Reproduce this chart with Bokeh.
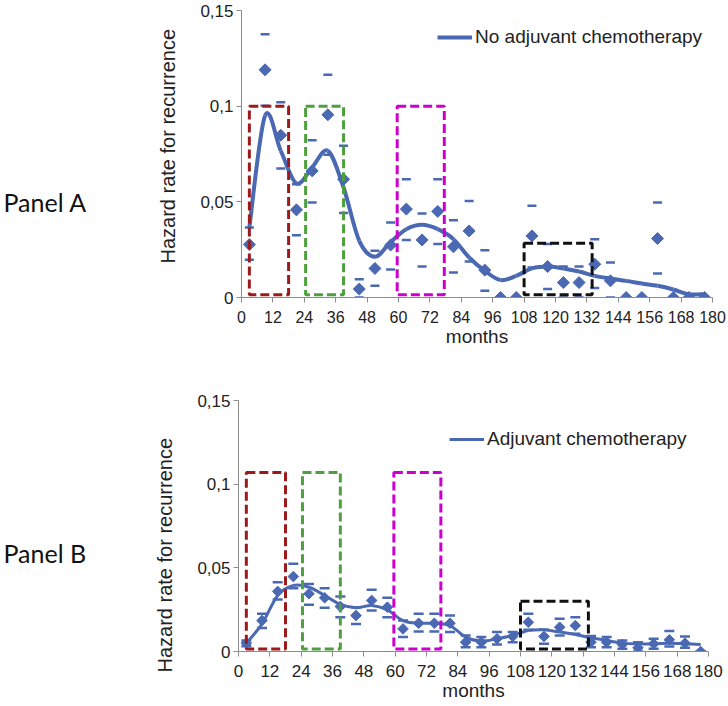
import numpy as np
from bokeh.plotting import figure
from bokeh.layouts import column, row
from bokeh.models import (Range1d, FixedTicker, Legend, LegendItem, ColumnDataSource, Title)
from bokeh.core.properties import value
from bokeh.embed import file_html
from bokeh.resources import INLINE

# ---------------- data ----------------
months = [3, 9, 15, 21, 27, 33, 39, 45, 51, 57, 63, 69, 75, 81, 87,
          93, 99, 105, 111, 117, 123, 129, 135, 141, 147, 153, 159, 165, 171, 177]

# Panel A: no adjuvant chemotherapy
a_hazard = [0.0277, 0.119, 0.0848, 0.0458, 0.0662, 0.0955, 0.0618, 0.0044, 0.0152, 0.0274,
            0.0462, 0.0301, 0.0450, 0.0265, 0.0348, 0.0143, 0.0, 0.0, 0.0322, 0.0162,
            0.0078, 0.0078, 0.0174, 0.0087, 0.0, 0.0, 0.0308, 0.0, 0.0, 0.0]
a_upper = [0.0366, 0.1376, 0.1020, 0.0592, 0.0822, 0.1164, 0.0793, 0.0096, 0.0244, 0.0392,
           0.0618, 0.0439, 0.0618, 0.0404, 0.0505, 0.0247, 0.0, 0.0, 0.0479, 0.0280,
           0.0162, 0.0162, 0.0305, 0.0183, 0.0, 0.0, 0.0497, 0.0, 0.0, 0.0]
a_lower = [0.0197, 0.1002, 0.0674, 0.0326, 0.0497, 0.0746, 0.0441, 0.0, 0.0061, 0.0146,
           0.0300, 0.0162, 0.0279, 0.0131, 0.0188, 0.0035, 0.0, 0.0, 0.0157, 0.0044,
           0.0, 0.0, 0.0049, 0.0, 0.0, 0.0, 0.0125, 0.0, 0.0, 0.0]
a_smooth = [0.0366, 0.0950, 0.0767, 0.0596, 0.0680, 0.0767, 0.0575, 0.0296, 0.0213, 0.0290,
            0.0357, 0.0380, 0.0357, 0.0305, 0.0209, 0.0139, 0.0091, 0.0113, 0.0152, 0.0162,
            0.0152, 0.0136, 0.0113, 0.0099, 0.0087, 0.0073, 0.0061, 0.0042, 0.0017, 0.0017]

# Panel B: adjuvant chemotherapy
b_hazard = [0.0050, 0.0185, 0.0359, 0.0448, 0.0345, 0.0321, 0.0269, 0.0215, 0.0305, 0.0265,
            0.0135, 0.0169, 0.0169, 0.0169, 0.0056, 0.0056, 0.0076, 0.0090, 0.0175, 0.0090,
            0.0145, 0.0155, 0.0056, 0.0056, 0.0042, 0.0022, 0.0046, 0.0070, 0.0050, 0.0]
b_upper = [0.0066, 0.0225, 0.0414, 0.0524, 0.0404, 0.0378, 0.0329, 0.0265, 0.0369, 0.0321,
           0.0185, 0.0225, 0.0225, 0.0215, 0.0096, 0.0086, 0.0116, 0.0116, 0.0225, 0.0130,
           0.0195, 0.0205, 0.0092, 0.0086, 0.0066, 0.0056, 0.0076, 0.0122, 0.0090, 0.0]
b_lower = [0.0032, 0.0141, 0.0311, 0.0378, 0.0279, 0.0261, 0.0205, 0.0165, 0.0245, 0.0205,
           0.0086, 0.0120, 0.0120, 0.0116, 0.0026, 0.0026, 0.0042, 0.0056, 0.0130, 0.0046,
           0.0096, 0.0106, 0.0026, 0.0026, 0.0016, 0.0, 0.0016, 0.0030, 0.0022, 0.0]
b_smooth = [0.0050, 0.0165, 0.0335, 0.0394, 0.0384, 0.0335, 0.0281, 0.0261, 0.0275, 0.0249,
            0.0185, 0.0169, 0.0169, 0.0155, 0.0086, 0.0062, 0.0076, 0.0096, 0.0125, 0.0130,
            0.0116, 0.0102, 0.0082, 0.0066, 0.0050, 0.0046, 0.0046, 0.0050, 0.0046, 0.0042]

# highlighted periods (months)
window_start = [3, 24.5, 59.5, 108]
window_end = [18, 39, 77.5, 134]
window_colors = ["#9B1B1B", "#4EA03E", "#CC00CC", "#111111"]
a_window_top = [0.1, 0.1, 0.1, 0.0284]
b_window_top = [0.107, 0.107, 0.107, 0.030]
window_bottom = [0.0015, 0.0015, 0.0015, 0.0015]

x_ticks = [0, 12, 24, 36, 48, 60, 72, 84, 96, 108, 120, 132, 144, 156, 168, 180]
y_ticks = [0, 0.05, 0.1, 0.15]
y_tick_labels = ["0", "0,05", "0,1", "0,15"]
y_axis_title = "Hazard rate for recurrence"
x_axis_title = "months"

BLUE = "#4A69B2"
FONT = "Liberation Sans"
SIDE_W = 100


def bezier_source(x, y):
    x = np.asarray(x, float)
    y = np.asarray(y, float)
    xp = np.concatenate([[x[0]], x, [x[-1]]])
    yp = np.concatenate([[y[0]], y, [y[-1]]])
    i = np.arange(len(x) - 1)
    return ColumnDataSource(dict(
        x0=xp[i + 1], y0=yp[i + 1], x1=xp[i + 2], y1=yp[i + 2],
        cx0=xp[i + 1] + (xp[i + 2] - xp[i]) / 6, cy0=yp[i + 1] + (yp[i + 2] - yp[i]) / 6,
        cx1=xp[i + 2] - (xp[i + 3] - xp[i + 1]) / 6, cy1=yp[i + 2] - (yp[i + 3] - yp[i + 1]) / 6,
    ))


def side_panel(height, top, bottom, panel_text, panel_row):
    """Left strip holding the panel name; its y data equals (height - pixel row)."""
    s = figure(width=SIDE_W, height=height, output_backend="svg", toolbar_location=None,
               x_range=Range1d(0, SIDE_W), y_range=Range1d(bottom, height - top),
               x_axis_type=None, y_axis_type=None,
               min_border_left=0, min_border_right=0,
               min_border_top=top, min_border_bottom=bottom)
    s.outline_line_color = None
    s.text(x=[3], y=[height - panel_row], text=[panel_text], text_font=value("Lato"),
           text_font_size="25px", text_baseline="middle", text_align="left",
           text_color="#111111")
    return s


def make_panel(height, top, bottom, left, right, hazard, upper, lower, smooth,
               window_top, legend_text, legend_loc, tick_font, line_w, marker_size,
               dash_size, title_offset):
    p = figure(width=728 - SIDE_W, height=height, output_backend="svg", toolbar_location=None,
               x_range=Range1d(0, 180), y_range=Range1d(0, 0.15),
               min_border_top=top, min_border_bottom=bottom,
               min_border_left=left, min_border_right=right)
    p.outline_line_color = None
    p.xgrid.grid_line_color = None
    p.ygrid.grid_line_color = None

    for ax in (p.xaxis[0], p.yaxis[0]):
        ax.axis_line_color = "#8C8C8C"
        ax.major_tick_line_color = "#8C8C8C"
        ax.minor_tick_line_color = None
        ax.major_tick_in = 0
        ax.major_tick_out = 5
        ax.major_label_text_font = FONT
        ax.major_label_text_color = "#222222"
        ax.axis_label_text_font = FONT
        ax.axis_label_text_font_size = "19px"
        ax.axis_label_text_font_style = "normal"
        ax.axis_label_text_color = "#222222"

    p.xaxis.ticker = FixedTicker(ticks=x_ticks)
    p.xaxis.axis_label = x_axis_title
    p.xaxis.major_label_text_font_size = tick_font
    p.xaxis.major_label_standoff = 8
    p.xaxis.axis_label_standoff = 0

    p.yaxis.ticker = FixedTicker(ticks=y_ticks)
    p.yaxis.major_label_overrides = {t: s for t, s in zip(y_ticks, y_tick_labels)}
    p.yaxis.major_label_text_font_size = "17px"
    p.yaxis.major_label_standoff = 3

    # y-axis title, starting from the bottom and shifted as in the original
    p.add_layout(Title(text=y_axis_title, align="left", offset=title_offset, standoff=38,
                       text_font=FONT, text_font_size="20px", text_font_style="normal",
                       text_color="#222222"), "left")

    # error bars (caps only)
    p.scatter(months, upper, marker="dash", size=dash_size, line_width=2.5, line_color=BLUE)
    p.scatter(months, lower, marker="dash", size=dash_size, line_width=2.5, line_color=BLUE)
    # smoothed hazard curve
    line = p.bezier(x0="x0", y0="y0", x1="x1", y1="y1", cx0="cx0", cy0="cy0",
                    cx1="cx1", cy1="cy1", source=bezier_source(months, smooth),
                    line_color=BLUE, line_width=line_w)
    # observed hazard points
    p.scatter(months, hazard, marker="square", angle=np.pi / 4, size=marker_size,
              fill_color=BLUE, line_color=BLUE)
    # highlighted windows
    p.quad(left=window_start, right=window_end, top=window_top, bottom=window_bottom,
           fill_alpha=0, line_color=window_colors, line_width=3, line_dash="9 4")

    leg = Legend(items=[LegendItem(label=legend_text, renderers=[line])],
                 location=legend_loc, padding=0, margin=0, spacing=0,
                 border_line_color=None, background_fill_alpha=0,
                 glyph_width=35, glyph_height=20, label_height=20, label_standoff=3,
                 label_text_font=FONT, label_text_font_size="19px",
                 label_text_color="#222222")
    p.add_layout(leg)
    return p


HA, HB = 360, 346
TA, BA = 10, 63
TB, BB = 40, 55
pA = make_panel(HA, TA, BA, 241 - SIDE_W, 16, a_hazard, a_upper, a_lower, a_smooth,
                a_window_top, "No adjuvant chemotherapy", (196, 249), "16px", 4, 8.5, 9, 34)
pB = make_panel(HB, TB, BB, 238 - SIDE_W, 20, b_hazard, b_upper, b_lower, b_smooth,
                b_window_top, "Adjuvant chemotherapy", (211, 201), "17px", 3, 7.5, 10, -21)
sA = side_panel(HA, TA, BA, "Panel A", 201)
sB = side_panel(HB, TB, BB, "Panel B", 192)

layout = column(row(sA, pA, spacing=0), row(sB, pB, spacing=0), spacing=0)
open("out.html", "w").write(file_html(layout, INLINE))
